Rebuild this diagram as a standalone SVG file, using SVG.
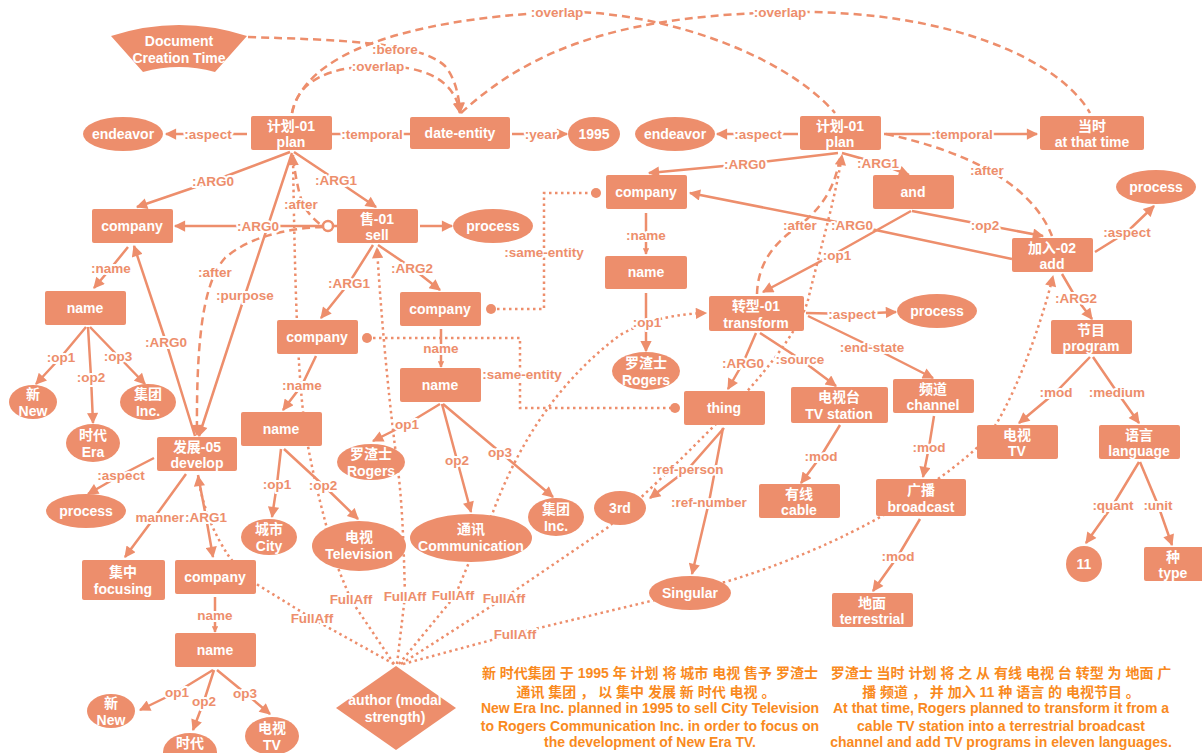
<svg xmlns="http://www.w3.org/2000/svg" width="1202" height="753" viewBox="0 0 1202 753">
<defs>
<style>
.n{fill:#ED8E6C}
.t{font-family:"Liberation Sans","Noto Sans CJK SC",sans-serif;font-weight:bold;font-size:14px;fill:#fff;text-anchor:middle}
.l{font-family:"Liberation Sans","Noto Sans CJK SC",sans-serif;font-weight:bold;font-size:13.5px;fill:#ED8E6C;text-anchor:middle;stroke:#fff;stroke-width:4px;paint-order:stroke;stroke-linejoin:round}
.e{stroke:#ED8E6C;stroke-width:2.5;fill:none}
.d{stroke-dasharray:8 5}
.o{stroke-dasharray:2.5 3.5}
.a{marker-end:url(#ah)}
.s{marker-end:url(#as)}
.b{font-family:"Liberation Sans","Noto Sans CJK SC",sans-serif;font-weight:bold;font-size:14px;fill:#F98A1E;text-anchor:middle}
</style>
<marker id="ah" viewBox="0 0 10 10" refX="9" refY="5" markerWidth="5" markerHeight="4.5" orient="auto" markerUnits="strokeWidth"><path d="M0,0 L10,5 L0,10 Z" fill="#ED8E6C"/></marker>
<marker id="as" viewBox="0 0 10 10" refX="9" refY="5" markerWidth="2.6" markerHeight="2.6" orient="auto" markerUnits="strokeWidth"><path d="M0,0 L10,5 L0,10 Z" fill="#ED8E6C"/></marker>
</defs>
<rect width="1202" height="753" fill="#fff"/>
<g id="connectors">
<!-- temporal dashed -->
<path class="e d a" d="M248,37 C340,40 420,42 445,66 C455,78 459,95 460,113"/>
<path class="e d a" d="M292,113 C298,80 330,66 380,66 C425,66 455,80 460,113"/>
<path class="e d" d="M292,113 C305,55 400,20 557,12 C650,9 780,50 835,113"/>
<path class="e d" d="M461,113 C540,40 640,15 790,12 C950,10 1060,60 1090,113"/>
<path class="e d" d="M293,158 C296,180 300,200 305,208 C312,218 318,223 323,226"/>
<path class="e d a" d="M323,227 C290,228 250,236 225,258 C205,280 196,330 197,435"/>
<path class="e d" d="M886,134 C960,150 1030,180 1052,236"/>
<path class="e d" d="M757,294 C758,262 775,242 800,225 C825,205 835,185 840,158"/>
<!-- same-entity -->
<path class="e o" d="M491,309 L544,309 L544,193 L596,193"/>
<circle cx="491" cy="309" r="5" fill="#ED8E6C"/>
<circle cx="596" cy="193" r="5" fill="#ED8E6C"/>
<path class="e o" d="M367,338 L520,338 L520,408 L675,408"/>
<circle cx="367" cy="338" r="5" fill="#ED8E6C"/>
<circle cx="675" cy="408" r="5" fill="#ED8E6C"/>
<!-- FullAff dotted -->
<path class="e o a" d="M394,664 L351,600 L338,568 C330,540 310,470 304,420 C298,370 295,300 293,155"/>
<path class="e o a" d="M397,664 L405,596 C404,560 403,510 398,470 C390,410 382,330 377,248"/>
<path class="e o a" d="M399,664 L455,596 L470,560 L493,512 C520,440 560,380 620,335 C650,318 680,314 706,313"/>
<path class="e o a" d="M401,664 L504,598 L607,528 C640,500 680,460 720,420 C760,380 800,330 808,300 C820,250 835,200 842,155"/>
<path class="e o a" d="M403,664 L514,634 L655,600 L725,582 C800,560 870,525 900,505 C930,485 960,465 985,440 C1010,410 1040,330 1053,276"/>
<path class="e o a" d="M394,664 L313,619 L258,585 C245,575 235,565 228,555 C215,535 203,510 198,476"/>
<!-- solid left -->
<path class="e a" d="M247,134 L166,134"/>
<path class="e" d="M332,134 L410,134"/>
<path class="e a" d="M512,134 L567,134"/>
<path class="e a" d="M290,152 L213,181 L137,207"/>
<path class="e a" d="M294,152 L336,180 L376,207"/>
<path class="e a" d="M292,153 L245,295 L199,436"/>
<path class="e a" d="M195,436 L166,342 L134,246"/>
<path class="e a" d="M337,226 L175,226"/>
<path class="e a" d="M420,226 L452,226"/>
<path class="e a" d="M373,245 L349,283 L321,318"/>
<path class="e a" d="M378,245 L412,268 L440,290"/>
<path class="e s" d="M441,329 L441,367"/>
<path class="e a" d="M440,404 L407,424 L373,441"/>
<path class="e a" d="M442,404 L457,460 L471,512"/>
<path class="e a" d="M443,404 L500,452 L553,497"/>
<path class="e a" d="M316,356 L302,385 L283,410"/>
<path class="e a" d="M281,449 L277,484 L272,517"/>
<path class="e a" d="M284,449 L323,485 L358,519"/>
<path class="e a" d="M128,247 L111,268 L94,288"/>
<path class="e a" d="M86,327 L61,357 L36,384"/>
<path class="e a" d="M88,327 L91,377 L93,423"/>
<path class="e a" d="M90,327 L118,356 L145,384"/>
<path class="e a" d="M154,458 L121,475 L88,494"/>
<path class="e a" d="M186,474 L157,514 L125,557"/>
<path class="e a" d="M198,475 L206,517 L213,557"/>
<path class="e s" d="M215,597 L215,632"/>
<path class="e a" d="M213,670 L177,692 L140,710"/>
<path class="e a" d="M214,670 L204,701 L193,730"/>
<path class="e a" d="M217,670 L245,693 L270,714"/>
<!-- solid right -->
<path class="e a" d="M798,134 L717,134"/>
<path class="e a" d="M884,134 L1037,134"/>
<path class="e a" d="M838,153 L745,164 L649,173"/>
<path class="e a" d="M842,153 L878,163 L909,175"/>
<path class="e a" d="M912,211 L985,225 L1043,236"/>
<path class="e a" d="M911,211 L838,252 L763,292"/>
<path class="e a" d="M1012,259 L852,225 L690,193"/>
<path class="e a" d="M1095,252 L1127,232 L1154,206"/>
<path class="e a" d="M1062,274 L1076,298 L1092,319"/>
<path class="e s" d="M646,213 L646,254"/>
<path class="e a" d="M646,293 L646,351"/>
<path class="e a" d="M806,313 L852,314 L896,312"/>
<path class="e a" d="M756,333 L743,363 L728,389"/>
<path class="e a" d="M760,333 L800,359 L836,386"/>
<path class="e a" d="M808,316 L872,347 L933,378"/>
<path class="e a" d="M840,425 L821,456 L801,483"/>
<path class="e a" d="M934,416 L929,447 L923,477"/>
<path class="e a" d="M920,519 L898,556 L873,591"/>
<path class="e a" d="M724,428 L688,469 L650,498"/>
<path class="e a" d="M723,428 L709,502 L692,574"/>
<path class="e a" d="M1090,357 L1056,392 L1019,423"/>
<path class="e a" d="M1093,357 L1117,392 L1139,423"/>
<path class="e a" d="M1139,462 L1113,505 L1086,543"/>
<path class="e a" d="M1140,462 L1158,505 L1172,545"/>
<circle cx="328" cy="226" r="5" fill="#fff" stroke="#ED8E6C" stroke-width="2.5"/>
<!-- labels -->
<text class="l" x="395" y="54">:before</text>
<text class="l" x="378" y="71">:overlap</text>
<text class="l" x="557" y="17">:overlap</text>
<text class="l" x="780" y="17">:overlap</text>
<text class="l" x="208" y="139">:aspect</text>
<text class="l" x="372" y="139">:temporal</text>
<text class="l" x="541" y="139">:year</text>
<text class="l" x="213" y="186">:ARG0</text>
<text class="l" x="336" y="185">:ARG1</text>
<text class="l" x="301" y="209">:after</text>
<text class="l" x="258" y="231">:ARG0</text>
<text class="l" x="215" y="277">:after</text>
<text class="l" x="245" y="300">:purpose</text>
<text class="l" x="166" y="347">:ARG0</text>
<text class="l" x="349" y="288">:ARG1</text>
<text class="l" x="412" y="273">:ARG2</text>
<text class="l" x="441" y="353">name</text>
<text class="l" x="407" y="429">op1</text>
<text class="l" x="457" y="465">op2</text>
<text class="l" x="500" y="457">op3</text>
<text class="l" x="302" y="390">:name</text>
<text class="l" x="277" y="489">:op1</text>
<text class="l" x="323" y="490">:op2</text>
<text class="l" x="111" y="273">:name</text>
<text class="l" x="61" y="362">:op1</text>
<text class="l" x="91" y="382">:op2</text>
<text class="l" x="118" y="361">:op3</text>
<text class="l" x="121" y="480">:aspect</text>
<text class="l" x="160" y="522">manner</text>
<text class="l" x="206" y="522">:ARG1</text>
<text class="l" x="215" y="620">name</text>
<text class="l" x="177" y="697">op1</text>
<text class="l" x="204" y="706">op2</text>
<text class="l" x="245" y="698">op3</text>
<text class="l" x="544" y="257">:same-entity</text>
<text class="l" x="522" y="379">:same-entity</text>
<text class="l" x="351" y="604">FullAff</text>
<text class="l" x="405" y="601">FullAff</text>
<text class="l" x="453" y="600">FullAff</text>
<text class="l" x="504" y="603">FullAff</text>
<text class="l" x="515" y="639">FullAff</text>
<text class="l" x="312" y="623">FullAff</text>
<text class="l" x="758" y="139">:aspect</text>
<text class="l" x="962" y="139">:temporal</text>
<text class="l" x="987" y="175">:after</text>
<text class="l" x="745" y="169">:ARG0</text>
<text class="l" x="878" y="168">:ARG1</text>
<text class="l" x="985" y="230">:op2</text>
<text class="l" x="837" y="260">:op1</text>
<text class="l" x="852" y="230">:ARG0</text>
<text class="l" x="800" y="230">:after</text>
<text class="l" x="1127" y="237">:aspect</text>
<text class="l" x="1076" y="303">:ARG2</text>
<text class="l" x="646" y="240">:name</text>
<text class="l" x="647" y="327">:op1</text>
<text class="l" x="852" y="319">:aspect</text>
<text class="l" x="743" y="368">:ARG0</text>
<text class="l" x="800" y="364">:source</text>
<text class="l" x="872" y="352">:end-state</text>
<text class="l" x="821" y="461">:mod</text>
<text class="l" x="929" y="452">:mod</text>
<text class="l" x="898" y="561">:mod</text>
<text class="l" x="688" y="474">:ref-person</text>
<text class="l" x="709" y="507">:ref-number</text>
<text class="l" x="1056" y="397">:mod</text>
<text class="l" x="1117" y="397">:medium</text>
<text class="l" x="1113" y="510">:quant</text>
<text class="l" x="1158" y="510">:unit</text>
</g>
<g id="dct"><path class="n" d="M111,36 Q179,14 247,36 L215,72 Q179,62 143,72 Z"/><text class="t" x="179" y="46">Document</text><text class="t" x="179" y="63">Creation Time</text></g>
<g id="plan1"><rect class="n" x="251" y="116" width="81" height="34" rx="2"/><text class="t" x="291" y="131">计划-01</text><text class="t" x="291" y="147">plan</text></g>
<g id="endeavor1"><ellipse class="n" cx="123" cy="134" rx="40" ry="17"/><text class="t" x="123" y="139">endeavor</text></g>
<g id="date-entity"><rect class="n" x="410" y="117" width="100" height="32" rx="2"/><text class="t" x="460" y="138">date-entity</text></g>
<g id="y1995"><ellipse class="n" cx="594" cy="134" rx="26" ry="17"/><text class="t" x="594" y="139">1995</text></g>
<g id="endeavor2"><ellipse class="n" cx="675" cy="134" rx="40" ry="17"/><text class="t" x="675" y="139">endeavor</text></g>
<g id="plan2"><rect class="n" x="800" y="116" width="81" height="34" rx="2"/><text class="t" x="840" y="131">计划-01</text><text class="t" x="840" y="147">plan</text></g>
<g id="now"><rect class="n" x="1040" y="116" width="104" height="34" rx="2"/><text class="t" x="1092" y="131">当时</text><text class="t" x="1092" y="147">at that time</text></g>
<g id="and"><rect class="n" x="873" y="175" width="81" height="34" rx="2"/><text class="t" x="913" y="197">and</text></g>
<g id="process-tr"><ellipse class="n" cx="1156" cy="187" rx="40" ry="17"/><text class="t" x="1156" y="192">process</text></g>
<g id="company2"><rect class="n" x="606" y="175" width="81" height="34" rx="2"/><text class="t" x="646" y="197">company</text></g>
<g id="company1"><rect class="n" x="92" y="209" width="81" height="34" rx="2"/><text class="t" x="132" y="231">company</text></g>
<g id="sell"><rect class="n" x="337" y="209" width="81" height="34" rx="2"/><text class="t" x="377" y="224">售-01</text><text class="t" x="377" y="240">sell</text></g>
<g id="process-sell"><ellipse class="n" cx="493" cy="226" rx="40" ry="17"/><text class="t" x="493" y="231">process</text></g>
<g id="add"><rect class="n" x="1012" y="238" width="81" height="34" rx="2"/><text class="t" x="1052" y="253">加入-02</text><text class="t" x="1052" y="269">add</text></g>
<g id="name2"><rect class="n" x="605" y="256" width="82" height="33" rx="2"/><text class="t" x="646" y="277">name</text></g>
<g id="name1"><rect class="n" x="45" y="291" width="81" height="34" rx="2"/><text class="t" x="85" y="313">name</text></g>
<g id="company4"><rect class="n" x="400" y="292" width="81" height="34" rx="2"/><text class="t" x="440" y="314">company</text></g>
<g id="transform"><rect class="n" x="709" y="296" width="95" height="35" rx="2"/><text class="t" x="756" y="311">转型-01</text><text class="t" x="756" y="328">transform</text></g>
<g id="process-transform"><ellipse class="n" cx="937" cy="311" rx="40" ry="17"/><text class="t" x="937" y="316">process</text></g>
<g id="program"><rect class="n" x="1051" y="320" width="81" height="34" rx="2"/><text class="t" x="1091" y="335">节目</text><text class="t" x="1091" y="351">program</text></g>
<g id="company3"><rect class="n" x="277" y="320" width="81" height="34" rx="2"/><text class="t" x="317" y="342">company</text></g>
<g id="name4"><rect class="n" x="400" y="368" width="81" height="34" rx="2"/><text class="t" x="440" y="390">name</text></g>
<g id="rogers2"><ellipse class="n" cx="646" cy="371" rx="34" ry="19"/><text class="t" x="646" y="368">罗渣士</text><text class="t" x="646" y="385">Rogers</text></g>
<g id="channel"><rect class="n" x="893" y="379" width="81" height="34" rx="2"/><text class="t" x="933" y="394">频道</text><text class="t" x="933" y="410">channel</text></g>
<g id="tvstation"><rect class="n" x="791" y="387" width="97" height="36" rx="2"/><text class="t" x="839" y="402">电视台</text><text class="t" x="839" y="419">TV station</text></g>
<g id="thing"><rect class="n" x="684" y="391" width="81" height="34" rx="2"/><text class="t" x="724" y="413">thing</text></g>
<g id="name3"><rect class="n" x="241" y="412" width="81" height="34" rx="2"/><text class="t" x="281" y="434">name</text></g>
<g id="tv-r"><rect class="n" x="977" y="425" width="81" height="34" rx="2"/><text class="t" x="1017" y="440">电视</text><text class="t" x="1017" y="456">TV</text></g>
<g id="language"><rect class="n" x="1099" y="425" width="81" height="34" rx="2"/><text class="t" x="1139" y="440">语言</text><text class="t" x="1139" y="456">language</text></g>
<g id="new1"><ellipse class="n" cx="33" cy="402" rx="24" ry="17"/><text class="t" x="33" y="399">新</text><text class="t" x="33" y="416">New</text></g>
<g id="era1"><ellipse class="n" cx="93" cy="443" rx="27" ry="19"/><text class="t" x="93" y="440">时代</text><text class="t" x="93" y="457">Era</text></g>
<g id="inc1"><ellipse class="n" cx="148" cy="402" rx="28" ry="18"/><text class="t" x="148" y="399">集团</text><text class="t" x="148" y="416">Inc.</text></g>
<g id="rogers1"><ellipse class="n" cx="371" cy="462" rx="34" ry="18"/><text class="t" x="371" y="459">罗渣士</text><text class="t" x="371" y="476">Rogers</text></g>
<g id="develop"><rect class="n" x="157" y="437" width="80" height="34" rx="2"/><text class="t" x="197" y="452">发展-05</text><text class="t" x="197" y="468">develop</text></g>
<g id="broadcast"><rect class="n" x="876" y="479" width="90" height="37" rx="2"/><text class="t" x="921" y="495">广播</text><text class="t" x="921" y="512">broadcast</text></g>
<g id="cable"><rect class="n" x="759" y="484" width="81" height="34" rx="2"/><text class="t" x="799" y="499">有线</text><text class="t" x="799" y="515">cable</text></g>
<g id="process-develop"><ellipse class="n" cx="86" cy="511" rx="40" ry="17"/><text class="t" x="86" y="516">process</text></g>
<g id="city"><ellipse class="n" cx="269" cy="537" rx="28" ry="18"/><text class="t" x="269" y="534">城市</text><text class="t" x="269" y="551">City</text></g>
<g id="television"><ellipse class="n" cx="359" cy="546" rx="47" ry="25"/><text class="t" x="359" y="542">电视</text><text class="t" x="359" y="559">Television</text></g>
<g id="communication"><ellipse class="n" cx="471" cy="538" rx="61" ry="24"/><text class="t" x="471" y="534">通讯</text><text class="t" x="471" y="551">Communication</text></g>
<g id="inc2"><ellipse class="n" cx="556" cy="517" rx="28" ry="19"/><text class="t" x="556" y="514">集团</text><text class="t" x="556" y="531">Inc.</text></g>
<g id="third"><ellipse class="n" cx="620" cy="508" rx="26" ry="17"/><text class="t" x="620" y="513">3rd</text></g>
<g id="singular"><ellipse class="n" cx="690" cy="593" rx="41" ry="17"/><text class="t" x="690" y="598">Singular</text></g>
<g id="q11"><circle class="n" cx="1084" cy="564" r="18"/><text class="t" x="1084" y="569">11</text></g>
<g id="type"><rect class="n" x="1144" y="547" width="60" height="34" rx="2"/><text class="t" x="1173" y="562">种</text><text class="t" x="1173" y="578">type</text></g>
<g id="focusing"><rect class="n" x="82" y="560" width="83" height="40" rx="2"/><text class="t" x="123" y="577">集中</text><text class="t" x="123" y="594">focusing</text></g>
<g id="company5"><rect class="n" x="175" y="560" width="81" height="34" rx="2"/><text class="t" x="215" y="582">company</text></g>
<g id="terrestrial"><rect class="n" x="832" y="593" width="81" height="34" rx="2"/><text class="t" x="872" y="608">地面</text><text class="t" x="872" y="624">terrestrial</text></g>
<g id="name5"><rect class="n" x="175" y="633" width="81" height="34" rx="2"/><text class="t" x="215" y="655">name</text></g>
<g id="new2"><ellipse class="n" cx="111" cy="711" rx="24" ry="17"/><text class="t" x="111" y="708">新</text><text class="t" x="111" y="725">New</text></g>
<g id="era2"><ellipse class="n" cx="190" cy="752" rx="27" ry="19"/><text class="t" x="190" y="748">时代</text></g>
<g id="tv2"><ellipse class="n" cx="272" cy="736" rx="27" ry="19"/><text class="t" x="272" y="733">电视</text><text class="t" x="272" y="750">TV</text></g>
<g id="author"><polygon class="n" points="396,666 456,708 396,750 336,708"/><text class="t" x="395" y="705">author (modal</text><text class="t" x="395" y="722">strength)</text></g>
<g id="sentences">
<text class="b" x="650" y="678">新 时代集团 于 1995 年 计划 将 城市 电视 售予 罗渣士</text>
<text class="b" x="646" y="697">通讯 集团 ，  以 集中 发展 新 时代 电视 。</text>
<text class="b" x="650" y="713">New Era Inc. planned in 1995 to sell City Television</text>
<text class="b" x="650" y="731">to Rogers Communication Inc. in order to focus on</text>
<text class="b" x="650" y="747">the development of New Era TV.</text>
<text class="b" x="1001" y="678">罗渣士 当时 计划 将 之 从 有线 电视 台 转型 为 地面 广</text>
<text class="b" x="1001" y="697">播 频道 ，  并 加入 11 种 语言 的 电视节目 。</text>
<text class="b" x="1001" y="713">At that time, Rogers planned to transform it from a</text>
<text class="b" x="1001" y="731">cable TV station into a terrestrial broadcast</text>
<text class="b" x="1001" y="747">channel and add TV programs in eleven languages.</text>
</g>
</svg>
